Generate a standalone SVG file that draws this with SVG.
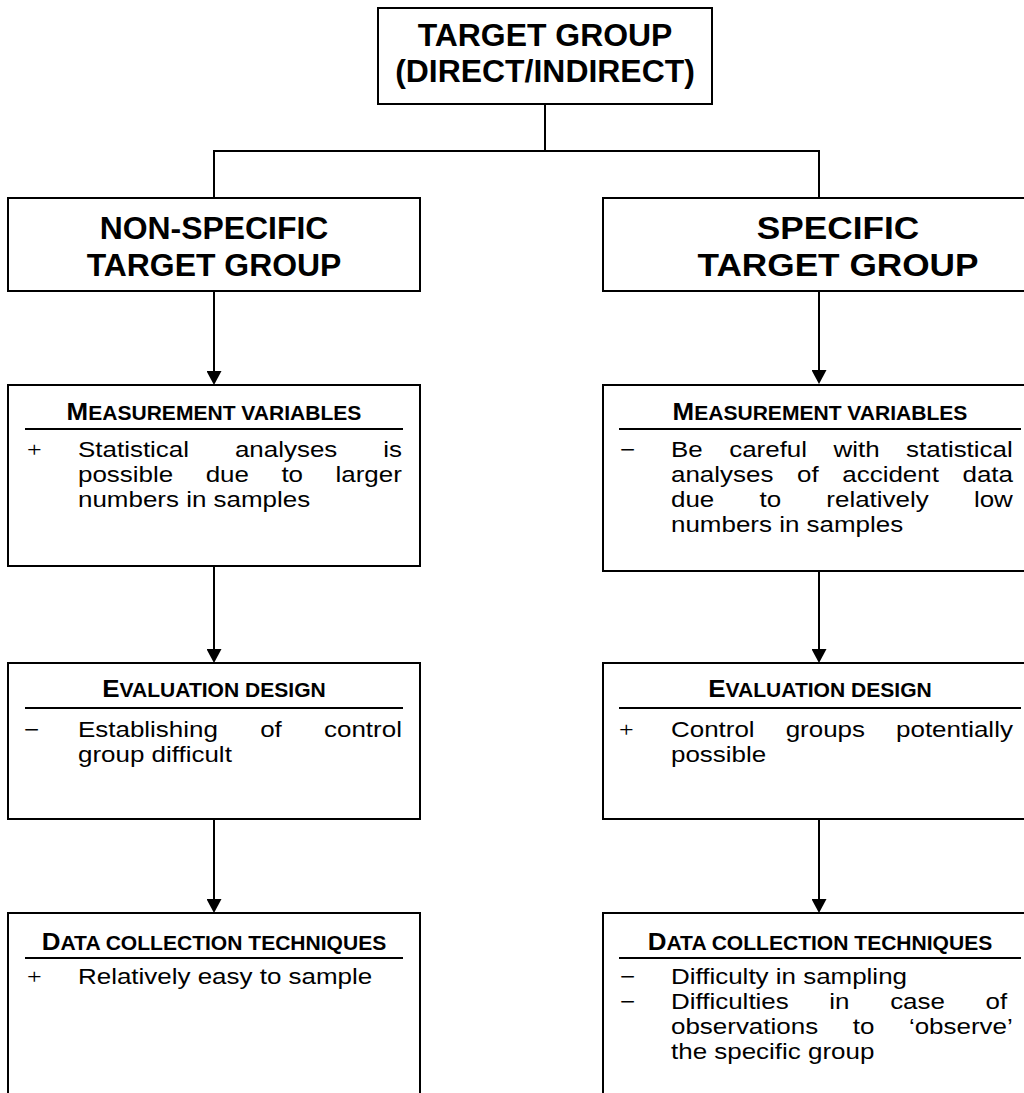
<svg xmlns="http://www.w3.org/2000/svg" width="1024" height="1093" viewBox="0 0 1024 1093">
  <style>
    text { font-family: "Liberation Sans", Arial, sans-serif; fill: #000; }
    .box { fill: #fff; stroke: #000; stroke-width: 2; }
    .rule { stroke: #000; stroke-width: 2; }
    .title { font-weight: bold; font-size: 31px; text-anchor: middle; }
    .title-lg { font-weight: bold; font-size: 32px; text-anchor: middle; }
    .hdr { font-weight: bold; font-size: 24px; text-anchor: middle; }
    .sc { font-size: 19.5px; }
    .body { font-size: 22px; }
    .plus { font-family: "Liberation Serif", "Times New Roman", serif; font-size: 22px; }
    .conn line, .conn polyline { stroke: #000; stroke-width: 2; fill: none; }
  </style>
  <defs>
    <marker id="arrow" markerUnits="userSpaceOnUse" markerWidth="14" markerHeight="15" refX="8" refY="7.5" orient="auto">
      <path d="M0,0 L14,7.5 L0,15 z" fill="#000"/>
    </marker>
  </defs>

  <rect width="1024" height="1093" fill="#fff"/>

  <!-- connectors -->
  <g class="conn">
    <line x1="545" y1="104" x2="545" y2="151"/>
    <polyline points="214,198 214,151 819,151 819,198"/>
    <line x1="214" y1="291" x2="214" y2="379" marker-end="url(#arrow)"/>
    <line x1="819" y1="291" x2="819" y2="378" marker-end="url(#arrow)"/>
    <line x1="214" y1="566" x2="214" y2="657" marker-end="url(#arrow)"/>
    <line x1="819" y1="571" x2="819" y2="657" marker-end="url(#arrow)"/>
    <line x1="214" y1="819" x2="214" y2="907" marker-end="url(#arrow)"/>
    <line x1="819" y1="819" x2="819" y2="907" marker-end="url(#arrow)"/>
  </g>

  <!-- root -->
  <g id="target-group">
    <rect class="box" x="378" y="8" width="334" height="96"/>
    <text class="title" transform="translate(545 46) scale(1.03 1)">TARGET GROUP</text>
    <text class="title" transform="translate(545 82) scale(1.03 1)">(DIRECT/INDIRECT)</text>
  </g>

  <!-- left column -->
  <g id="non-specific">
    <rect class="box" x="8" y="198" width="412" height="93"/>
    <text class="title" transform="translate(214 239) scale(1.03 1)">NON-SPECIFIC</text>
    <text class="title" transform="translate(214 276) scale(1.03 1)">TARGET GROUP</text>
  </g>

  <g id="ns-measurement">
    <rect class="box" x="8" y="385" width="412" height="181"/>
    <text class="hdr" transform="translate(214 420) scale(1.08 1)">M<tspan class="sc">EASUREMENT VARIABLES</tspan></text>
    <line class="rule" x1="25" y1="429" x2="403" y2="429"/>
    <text class="plus" transform="translate(27 457) scale(1.18 1)">+</text>
    <text class="body" transform="translate(78 457) scale(1.18 1)" word-spacing="32.8">Statistical analyses is</text>
    <text class="body" transform="translate(78 482) scale(1.18 1)" word-spacing="21.4">possible due to larger</text>
    <text class="body" transform="translate(78 507) scale(1.18 1)">numbers in samples</text>
  </g>

  <g id="ns-evaluation">
    <rect class="box" x="8" y="663" width="412" height="156"/>
    <text class="hdr" transform="translate(214 697) scale(1.08 1)">E<tspan class="sc">VALUATION DESIGN</tspan></text>
    <line class="rule" x1="25" y1="708" x2="403" y2="708"/>
    <text class="body" transform="translate(24 737) scale(1.18 1)">−</text>
    <text class="body" transform="translate(78 737) scale(1.18 1)" word-spacing="29.7">Establishing of control</text>
    <text class="body" transform="translate(78 762) scale(1.18 1)">group difficult</text>
  </g>

  <g id="ns-data">
    <rect class="box" x="8" y="913" width="412" height="200"/>
    <text class="hdr" transform="translate(214 950) scale(1.08 1)">D<tspan class="sc">ATA COLLECTION TECHNIQUES</tspan></text>
    <line class="rule" x1="25" y1="958" x2="403" y2="958"/>
    <text class="plus" transform="translate(27 984) scale(1.18 1)">+</text>
    <text class="body" transform="translate(78 984) scale(1.18 1)">Relatively easy to sample</text>
  </g>

  <!-- right column -->
  <g id="specific">
    <rect class="box" x="603" y="198" width="434" height="93"/>
    <text class="title-lg" transform="translate(838 239) scale(1.1 1)">SPECIFIC</text>
    <text class="title-lg" transform="translate(838 276) scale(1.1 1)">TARGET GROUP</text>
  </g>

  <g id="sp-measurement">
    <rect class="box" x="603" y="385" width="434" height="186"/>
    <text class="hdr" transform="translate(820 420) scale(1.08 1)">M<tspan class="sc">EASUREMENT VARIABLES</tspan></text>
    <line class="rule" x1="619" y1="429" x2="1021" y2="429"/>
    <text class="body" transform="translate(620 457) scale(1.18 1)">−</text>
    <text class="body" transform="translate(671 457) scale(1.18 1)" word-spacing="16.3">Be careful with statistical</text>
    <text class="body" transform="translate(671 482) scale(1.18 1)" word-spacing="13.9">analyses of accident data</text>
    <text class="body" transform="translate(671 507) scale(1.18 1)" word-spacing="32.2">due to relatively low</text>
    <text class="body" transform="translate(671 532) scale(1.18 1)">numbers in samples</text>
  </g>

  <g id="sp-evaluation">
    <rect class="box" x="603" y="663" width="434" height="156"/>
    <text class="hdr" transform="translate(820 697) scale(1.08 1)">E<tspan class="sc">VALUATION DESIGN</tspan></text>
    <line class="rule" x1="619" y1="708" x2="1021" y2="708"/>
    <text class="plus" transform="translate(619 737) scale(1.18 1)">+</text>
    <text class="body" transform="translate(671 737) scale(1.18 1)" word-spacing="20.2">Control groups potentially</text>
    <text class="body" transform="translate(671 762) scale(1.18 1)">possible</text>
  </g>

  <g id="sp-data">
    <rect class="box" x="603" y="913" width="434" height="200"/>
    <text class="hdr" transform="translate(820 950) scale(1.08 1)">D<tspan class="sc">ATA COLLECTION TECHNIQUES</tspan></text>
    <line class="rule" x1="619" y1="958" x2="1021" y2="958"/>
    <text class="body" transform="translate(620 984) scale(1.18 1)">−</text>
    <text class="body" transform="translate(671 984) scale(1.18 1)">Difficulty in sampling</text>
    <text class="body" transform="translate(620 1009) scale(1.18 1)">−</text>
    <text class="body" transform="translate(671 1009) scale(1.18 1)" word-spacing="28.3">Difficulties in case of</text>
    <text class="body" transform="translate(671 1034) scale(1.18 1)" word-spacing="23.2">observations to ‘observe’</text>
    <text class="body" transform="translate(671 1059) scale(1.18 1)">the specific group</text>
  </g>
</svg>
